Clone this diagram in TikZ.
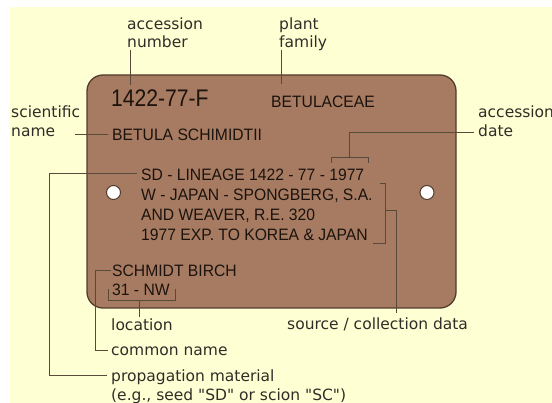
\documentclass[tikz,border=0pt]{standalone}
\usepackage{fontspec}
\usepackage{tikz}
\usetikzlibrary{positioning,calc}
\newfontfamily\lblfont{DejaVu Sans}
\newfontfamily\platefont[FakeStretch=0.95]{Liberation Sans}
\newfontfamily\numfont[FakeStretch=0.88]{Liberation Sans}
\definecolor{paper}{RGB}{255,255,212}
\definecolor{plate}{RGB}{166,123,98}
\definecolor{plateedge}{RGB}{84,60,45}
\definecolor{platetext}{RGB}{28,19,13}
\definecolor{leader}{RGB}{88,74,58}
\definecolor{lbltext}{RGB}{48,45,40}

\tikzset{
  lbl/.style={anchor=base west,inner sep=0pt,text=lbltext,font=\lblfont\fontsize{15.5}{18}\selectfont},
  tag/.style={anchor=base west,inner sep=0pt,text=platetext,font=\platefont\fontsize{16.5}{20}\selectfont},
  leadline/.style={draw=leader,line width=0.8pt},
  hole/.style={circle,draw=plateedge,fill=white,line width=1pt,minimum size=14pt,inner sep=0pt}
}

\begin{document}
\begin{tikzpicture}[x=1pt,y=-1pt]
\clip (0,0) rectangle (552,403);
\fill[white] (0,0) rectangle (552,403);
\fill[paper] (10,7) rectangle (552,403);

% the plate
\draw[plateedge,fill=plate,line width=1.3pt,rounded corners=16pt] (87,75) rectangle (456,308);
\node[hole] (holeL) at (113.5,192.5) {};
\node[hole] (holeR) at (427,192.5) {};

% text on the plate
\node[tag,font=\numfont\fontsize{24}{24}\selectfont] (accno) at (111,107) {1422-77-F};
\node[tag] (family) at (271,107.3) {BETULACEAE};
\node[tag] (sciname) at (112,140.7) {BETULA SCHIMIDTII};
\node[tag] (srcA) at (141,180.7) {SD - LINEAGE 1422 - 77 - 1977};
\node[tag] (srcB) at (141,200.7) {W - JAPAN - SPONGBERG, S.A.};
\node[tag] (srcC) at (141,220.7) {AND WEAVER, R.E. 320};
\node[tag] (srcD) at (141,240.7) {1977 EXP. TO KOREA \& JAPAN};
\node[tag] (common) at (112,276.5) {SCHMIDT BIRCH};
\node[tag] (loc) at (112,295.5) {31 - NW};

% labels round it
\node[lbl] (accnoA) at (127,29.5) {accession};
\node[lbl] (accnoB) at (127,48) {number};
\node[lbl] (familyA) at (279,29.5) {plant};
\node[lbl] (familyB) at (279,48) {family};
\node[lbl] (scinameA) at (11,118) {scientific};
\node[lbl] (scinameB) at (11,137) {name};
\node[lbl] (dateA) at (478,118) {accession};
\node[lbl] (dateB) at (478,137) {date};
\node[lbl] (locL) at (111,331) {location};
\node[lbl] (commonL) at (111,356) {common name};
\node[lbl] (propA) at (111,382) {propagation material};
\node[lbl] (propB) at (111,400.5) {(e.g., seed "SD" or scion "SC")};
\node[lbl] (srcL) at (287,329.5) {source / collection data};

% leaders
\draw[leadline] ($(accnoB.base west)+(3,2)$) -- ($(accno.base west)+(19,-22)$);
\draw[leadline] ($(familyB.base west)+(2,2)$) -- ($(familyB.base west)+(2,36)$);
\draw[leadline] ($(sciname.base west)+(-37,-6.7)$) -- ($(sciname.base west)+(-4,-6.7)$);
% accession date
\draw[leadline] ($(srcA.base west)+(190,-17.7)$) -- ++(0,-6) -- ++(37,0) -- ++(0,6);
\draw[leadline] ($(srcA.base west)+(208,-23.7)$) |- ($(dateB.base west)+(-4,-5)$);
% source / collection data
\draw[leadline] ($(srcB.base west)+(239,-17.7)$) -- ++(5,0) |- ($(srcD.base west)+(232,2.3)$);
\draw[leadline] ($(srcB.base west)+(244,9.3)$) -| ($(srcL.base west)+(109,-16.5)$);
% propagation material
\draw[leadline] ($(srcA.base west)+(-4,-7.7)$) -- ++(-88,0) |- ($(propA.base west)+(-4,-7)$);
% common name
\draw[leadline] ($(common.base west)+(-1,-6)$) -- ++(-16,0) |- ($(commonL.base west)+(-3,-6)$);
% location
\draw[leadline] ($(loc.base west)+(-4,-6.5)$) -- ++(0,11) -- ++(67,0) -- ++(0,-11);
\draw[leadline] ($(loc.base west)+(27,4.5)$) -- ($(locL.base west)+(28,-14)$);
\end{tikzpicture}
\end{document}
